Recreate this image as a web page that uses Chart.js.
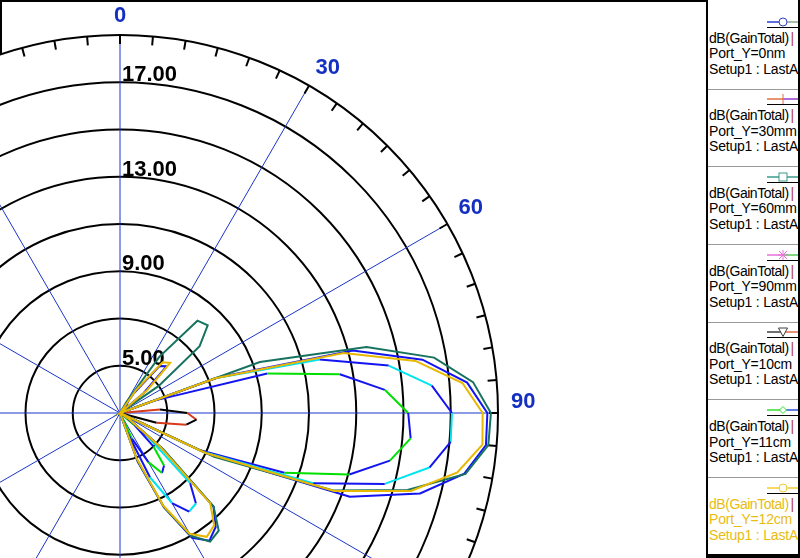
<!DOCTYPE html>
<html>
<head>
<meta charset="utf-8">
<script src="https://cdn.jsdelivr.net/npm/chart.js@4.4.0/dist/chart.umd.min.js"></script>
<style>
html, body { margin: 0; padding: 0; background: #fff; }
body { width: 800px; height: 558px; overflow: hidden; position: relative; font-family: "Liberation Sans", Arial, sans-serif; }
#frame { position: absolute; left: 0; top: 0; width: 706px; height: 558px; border-top: 2px solid #000; border-left: 2px solid #000; box-sizing: border-box; }
#polar { position: absolute; left: -310px; top: -17px; }
#legend { position: absolute; left: 706px; top: 0; width: 94px; height: 558px; border-left: 2px solid #000; border-right: 2px solid #000; border-bottom: 4px solid #000; box-sizing: border-box; overflow: hidden; background: #fff; }
.entry { position: absolute; left: 0; width: 90px; }
.entry svg { position: absolute; left: 59px; }
.entry .under { position: absolute; left: 59px; width: 31px; height: 1px; background: #000; }
.entry .txt { position: absolute; left: 1px; font-size: 14px; letter-spacing: -0.2px; line-height: 15.5px; white-space: nowrap; color: #000; }
.entry .head { letter-spacing: -0.45px; }
.entry .bar { color: #b04040; margin-left: -2px; }
.entry .sep { position: absolute; left: 0; width: 90px; height: 1px; background: #9a9a9a; }
</style>
</head>
<body>
<div id="frame"></div>
<canvas id="polar" width="860" height="860"></canvas>
<div id="legend"></div>
<script>
// angle categories (deg, clockwise from top)
const angleSteps = [
    0, 5, 10, 15, 20, 25, 30, 35, 40, 45, 50, 55,
    60, 65, 70, 75, 80, 85, 90, 95, 100, 105, 110, 115,
    120, 125, 130, 135, 140, 145, 150, 155, 160, 165, 170, 175,
    180, 185, 190, 195, 200, 205, 210, 215, 220, 225, 230, 235,
    240, 245, 250, 255, 260, 265, 270, 275, 280, 285, 290, 295,
    300, 305, 310, 315, 320, 325, 330, 335, 340, 345, 350, 355
];
const angleLabels = [0, 30, 60, 90, 120, 150, 180, 210, 240, 270, 300, 330];
const radialLabels = [5, 9, 13, 17];

// dB(GainTotal), one value per 5 deg
const gain0nm = [
    3, 3, 3, 3, 3, 3, 3, 4.0, 5.6, 5.8, 4.3, 3,
    3, 3, 7.4, 13.2, 16.0, 17.75, 18.55, 18.55, 17.8, 16.15, 13.35, 7.1,
    3, 3.5, 5.3, 8.6, 9.3, 9.6, 9.1, 7.4, 5.2, 3, 3, 3,
    3, 3, 3, 3, 3, 3, 3, 3, 3, 3, 3, 3,
    3, 3, 3, 3, 3, 3, 3, 3, 3, 3, 3, 3,
    3, 3, 3, 3, 3, 3, 3, 3, 3, 3, 3, 3
];
const gain60mm = [
    3, 3, 3, 3, 3, 3, 3.5, 5.9, 8.1, 8.25, 7.4, 5.0,
    3, 3, 9.3, 13.8, 16.5, 18.0, 18.7, 18.65, 17.85, 15.6, 12.6, 7.4,
    3, 3.5, 5.4, 8.6, 9.5, 9.65, 9.0, 7.4, 5.1, 3, 3, 3,
    3, 3, 3, 3, 3, 3, 3, 3, 3, 3, 3, 3,
    3, 3, 3, 3, 3, 3, 3, 3, 3, 3, 3, 3,
    3, 3, 3, 3, 3, 3, 3, 3, 3, 3, 3, 3
];
const gain90mm = [
    3, 3, 3, 3, 3, 3, 3, 3.6, 3.4, 3, 3, 3,
    3, 3, 7.3, 11.75, 14.55, 16.25, 17.05, 17.05, 16.3, 14.6, 11.7, 6.9,
    3, 3.3, 4.5, 7.2, 8.0, 8.1, 7.4, 6.0, 3.8, 3, 3, 3,
    3, 3, 3, 3, 3, 3, 3, 3, 3, 3, 3, 3,
    3, 3, 3, 3, 3, 3, 3, 3, 3, 3, 3, 3,
    3, 3, 3, 3, 3, 3, 3, 3, 3, 3, 3, 3
];
const gain10cm = [
    3, 3, 3, 3, 3, 3, 3, 3, 3, 3, 3, 3,
    3, 3, 3, 3, 3, 4.7, 5.85, 6.25, 5.85, 4.6, 3, 3,
    3, 3, 3, 3, 3, 3, 3, 3, 3, 3, 3, 3,
    3, 3, 3, 3, 3, 3, 3, 3, 3, 3, 3, 3,
    3, 3, 3, 3, 3, 3, 3, 3, 3, 3, 3, 3,
    3, 3, 3, 3, 3, 3, 3, 3, 3, 3, 3, 3
];
const gain11cm = [
    3, 3, 3, 3, 3, 3, 3, 3, 3, 3, 3, 3,
    3, 3, 4.5, 9.45, 12.45, 14.25, 15.2, 15.35, 14.6, 13.05, 10.4, 6.7,
    3, 3, 3.8, 5.0, 5.9, 6.1, 5.4, 4.2, 3, 3, 3, 3,
    3, 3, 3, 3, 3, 3, 3, 3, 3, 3, 3, 3,
    3, 3, 3, 3, 3, 3, 3, 3, 3, 3, 3, 3,
    3, 3, 3, 3, 3, 3, 3, 3, 3, 3, 3, 3
];
const gain12cm = [
    3, 3, 3, 3, 3, 3, 3, 4.2, 5.8, 6.0, 4.5, 3,
    3, 3, 7.3, 12.8, 15.7, 17.55, 18.35, 18.4, 17.5, 15.75, 12.65, 7.0,
    3, 3.5, 5.2, 8.4, 9.2, 9.4, 8.9, 7.3, 5.0, 3, 3, 3,
    3, 3, 3, 3, 3, 3, 3, 3, 3, 3, 3, 3,
    3, 3, 3, 3, 3, 3, 3, 3, 3, 3, 3, 3,
    3, 3, 3, 3, 3, 3, 3, 3, 3, 3, 3, 3
];

// legend
const legendPorts = ['Port_Y=0nm', 'Port_Y=30mm', 'Port_Y=60mm', 'Port_Y=90mm', 'Port_Y=10cm', 'Port_Y=11cm', 'Port_Y=12cm'];
const legendLeft = ['#2a3fd0', '#e0703c', '#3a9a88', '#e870d8', '#404040', '#30e030', '#f0cc30'];
const legendRight = ['#8aa890', '#9a3ad0', '#3a9a88', '#58c858', '#e06a4a', '#3050e0', '#f0cc30'];
const legendMarks = ['circle', 'plus', 'square', 'star', 'tri', 'diamond', 'circle'];

function markSvg(kind, c) {
    if (kind === 'circle') return '<circle cx="16" cy="5" r="4" fill="#fff" stroke="' + c + '"/>';
    if (kind === 'plus') return '<line x1="16" y1="0" x2="16" y2="10" stroke="' + c + '"/>';
    if (kind === 'square') return '<rect x="12" y="1" width="8" height="8" fill="#fff" stroke="' + c + '"/>';
    if (kind === 'star') return '<path d="M12 1L20 9M20 1L12 9M16 0V10M11 5H21" stroke="' + c + '"/>';
    if (kind === 'tri') return '<path d="M11.5 1H20.5L16 9.5Z" fill="#fff" stroke="' + c + '"/>';
    return '<path d="M16 1.5L19.5 5L16 8.5L12.5 5Z" fill="#fff" stroke="' + c + '"/>';
}

const legendBox = document.getElementById('legend');
legendPorts.forEach((port, i) => {
    const e = document.createElement('div');
    e.className = 'entry';
    e.style.top = (11 + 77.7 * i) + 'px';
    e.style.height = '77.7px';
    const txtColor = i === legendPorts.length - 1 ? '#e8bc10' : '#000';
    e.innerHTML =
        '<svg width="33" height="10" style="top:5.7px">' +
        '<line x1="0" y1="5" x2="16" y2="5" stroke="' + legendLeft[i] + '" stroke-width="1.5"/>' +
        '<line x1="16" y1="5" x2="33" y2="5" stroke="' + legendRight[i] + '" stroke-width="1.5"/>' +
        markSvg(legendMarks[i], legendLeft[i]) + '</svg>' +
        '<div class="under" style="top:15.7px"></div>' +
        '<div class="txt" style="top:19.5px;color:' + txtColor + '"><span class="head">dB(GainTotal)</span> <span class="bar">|</span><br>' + port + '<br>Setup1 : LastAdaptive</div>' +
        (i < legendPorts.length - 1 ? '<div class="sep" style="top:77.7px"></div>' : '');
    legendBox.appendChild(e);
});

// radar line has no segment hook, so two-coloured traces are set here
const twoTone = {
    id: 'twoTone',
    afterDatasetUpdate(chart, args) {
        const ds = chart.data.datasets[args.index];
        if (!ds.toneColors) return;
        const line = args.meta.dataset;
        line._chart = chart;
        line._datasetIndex = args.index;
        const base = line.options;
        base.segment = {
            setContext: c => Object.assign({}, base, { borderColor: ds.toneColors[c.p0DataIndex % 2] })
        };
        delete line._segments;
    }
};

const polarDecor = {
    id: 'polarDecor',
    beforeDraw(chart) {
        const r = chart.scales.r, ctx = chart.ctx;
        ctx.save();
        ctx.fillStyle = '#fff';
        ctx.beginPath();
        ctx.arc(r.xCenter, r.yCenter, r.drawingArea, 0, Math.PI * 2);
        ctx.fill();
        ctx.restore();
    },
    beforeDatasetsDraw(chart) {
        const r = chart.scales.r, ctx = chart.ctx;
        ctx.save();
        // small ticks on the outer ring
        ctx.strokeStyle = '#000';
        ctx.lineWidth = 2;
        angleSteps.forEach((a, i) => {
            const p0 = r.getPointPosition(i, r.drawingArea - 9);
            const p1 = r.getPointPosition(i, r.drawingArea);
            ctx.beginPath();
            ctx.moveTo(p0.x, p0.y);
            ctx.lineTo(p1.x, p1.y);
            ctx.stroke();
        });
        ctx.font = 'bold 22px "Liberation Sans", Arial, sans-serif';
        ctx.fillStyle = '#000';
        ctx.textAlign = 'left';
        ctx.textBaseline = 'alphabetic';
        radialLabels.forEach(v => {
            const d = r.getDistanceFromCenterForValue(v);
            ctx.fillText(v.toFixed(2), r.xCenter + 2, r.yCenter - d - 1);
        });
        ctx.fillStyle = '#1530c0';
        angleLabels.forEach(deg => {
            const p = r.getPointPosition(angleSteps.indexOf(deg), r.drawingArea + 13);
            const s = Math.sin(deg * Math.PI / 180);
            ctx.textAlign = Math.abs(s) < 0.01 ? 'center' : (s > 0 ? 'left' : 'right');
            ctx.fillText(String(deg), p.x, p.y - 5 * s * s * s);
        });
        ctx.restore();
    }
};

function trace(label, data, color, tones) {
    return {
        label: label,
        data: data,
        borderColor: color,
        backgroundColor: 'transparent',
        borderWidth: 2,
        pointRadius: 0,
        fill: false,
        toneColors: tones
    };
}

new Chart(document.getElementById('polar'), {
    type: 'radar',
    data: {
        labels: angleSteps,
        datasets: [
            trace('Port_Y=12cm', gain12cm, '#e8b800'),
            trace('Port_Y=60mm', gain60mm, '#17735f'),
            trace('Port_Y=0nm', gain0nm, '#1414f0'),
            trace('Port_Y=90mm', gain90mm, '#00e4f0', ['#00e4f0', '#1414f0']),
            trace('Port_Y=11cm', gain11cm, '#00e000', ['#1414f0', '#00e000']),
            trace('Port_Y=10cm', gain10cm, '#000000', ['#d83a1c', '#000000'])
        ]
    },
    options: {
        responsive: false,
        animation: false,
        events: [],
        layout: { padding: 52 },
        plugins: {
            legend: { display: false },
            tooltip: { enabled: false }
        },
        scales: {
            r: {
                min: 3,
                max: 19,
                startAngle: 0,
                ticks: { stepSize: 2, display: false },
                grid: { circular: true, color: '#000', lineWidth: 2 },
                angleLines: {
                    color: '#1a35cc',
                    lineWidth: ctx => (ctx.index % 6 === 0 ? 1 : 0)
                },
                pointLabels: { display: false }
            }
        }
    },
    plugins: [twoTone, polarDecor]
});
</script>
</body>
</html>
